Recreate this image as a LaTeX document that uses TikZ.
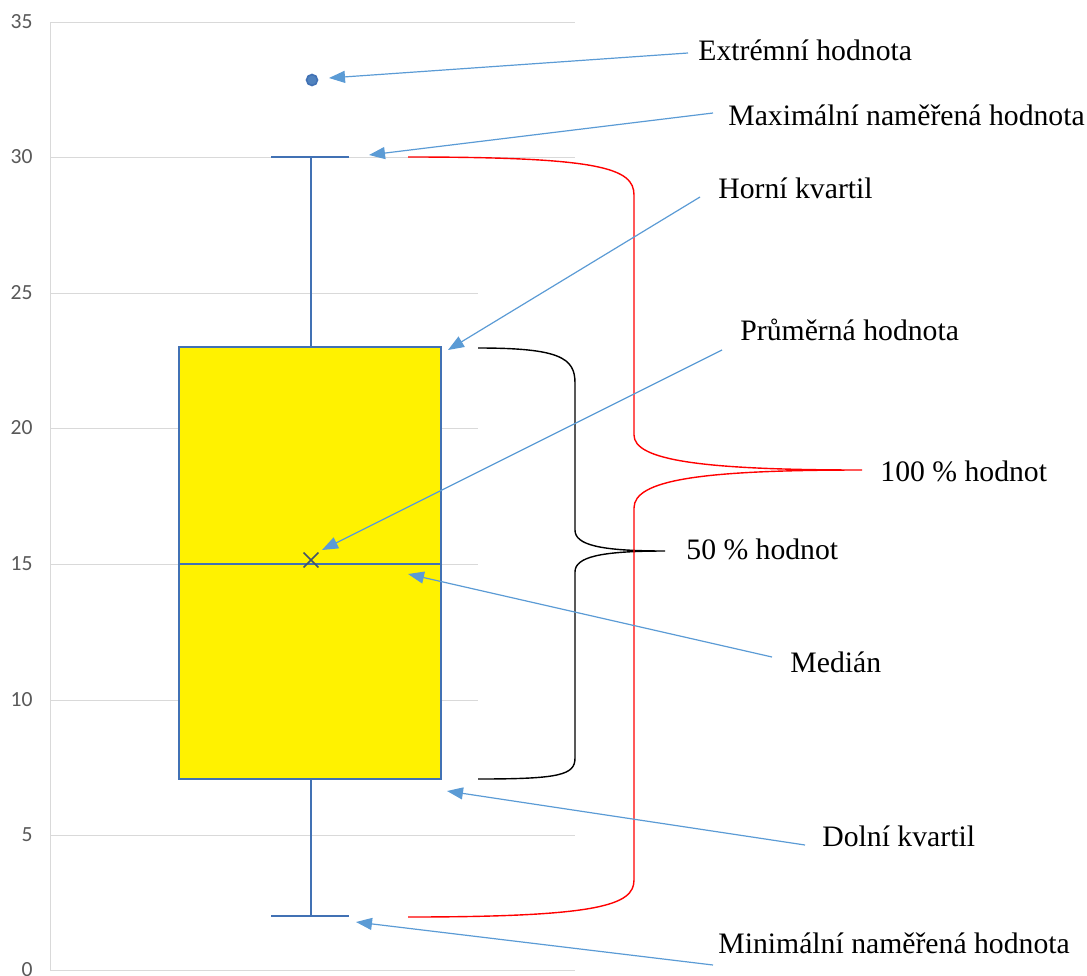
\documentclass[tikz,border=0pt]{standalone}
\usepackage{fontspec}
\setmainfont{Liberation Serif}
\newfontfamily\axisfont{Carlito}
\usetikzlibrary{arrows.meta}
\definecolor{gridgray}{RGB}{217,217,217}
\definecolor{axgray}{RGB}{89,89,89}
\definecolor{boxblue}{RGB}{65,113,180}
\definecolor{arrblue}{RGB}{91,155,213}
\definecolor{dotblue}{RGB}{80,130,190}
\definecolor{meangray}{RGB}{68,84,106}
\definecolor{bred}{RGB}{255,0,0}
\tikzset{
  grid line/.style={draw=gridgray,line width=0.5pt},
  ticklab/.style={font=\axisfont\fontsize{10.8}{12}\selectfont,text=axgray,anchor=east,inner sep=0pt},
  plotline/.style={draw=boxblue,line width=0.75pt},
  callout/.style={draw=arrblue,line width=0.6pt,-{Triangle[length=8pt,width=6pt]}},
  lab/.style={font=\fontsize{14.85}{17}\selectfont,anchor=base west,inner sep=0pt},
  bracebk/.style={draw=black,line width=0.7pt},
  bracerd/.style={draw=bred,line width=0.7pt}
}
\begin{document}
\begin{tikzpicture}[x=0.5pt,y=-0.5pt]
\useasboundingbox (0,0) rectangle (1087,975);
% grid
\draw[grid line] (50,22) -- (50,970);
\foreach \yy in {22,157,835,970} \draw[grid line] (50,\yy) -- (575,\yy);
\foreach \yy in {293,428,564,700} \draw[grid line] (50,\yy) -- (478,\yy);
% tick labels
\node[ticklab] (t35) at (33,22) {35};
\node[ticklab] (t30) at (33,157) {30};
\node[ticklab] (t25) at (33,293) {25};
\node[ticklab] (t20) at (33,428) {20};
\node[ticklab] (t15) at (33,564) {15};
\node[ticklab] (t10) at (33,700) {10};
\node[ticklab] (t5) at (33,835) {5};
\node[ticklab] (t0) at (33,970) {0};
% box plot
\node[plotline,fill=yellow,minimum width=131pt,minimum height=216pt,inner sep=0pt] (box) at (310,563) {};
\draw[plotline] (box.west |- 0,564) -- (box.east |- 0,564);
\draw[plotline] (311,347) -- (311,157);
\draw[plotline] (271,157) -- (349,157);
\draw[plotline] (311,779) -- (311,916);
\draw[plotline] (271,916) -- (349,916);
\node[circle,draw=boxblue,fill=dotblue,line width=0.8pt,minimum size=5.5pt,inner sep=0pt] (out) at (312,80) {};
\node[draw=none,inner sep=0pt,minimum size=7pt] (mean) at (311,560) {};
\draw[meangray,line width=0.75pt] (mean.north west) -- (mean.south east) (mean.north east) -- (mean.south west);
% braces
\draw[bracebk] (478,348) .. controls (560,348) and (575,358) .. (575,383) -- (575,530)
  .. controls (575,545) and (600,551) .. (665,551)
  .. controls (600,551) and (575,557) .. (575,572) -- (575,758)
  .. controls (575,775) and (560,779) .. (478,779);
\draw[bracerd] (408,157) .. controls (600,157) and (634,168) .. (634,195) -- (634,435)
  .. controls (634,460) and (700,470) .. (862,470)
  .. controls (700,470) and (634,480) .. (634,508) -- (634,880)
  .. controls (634,905) and (600,917) .. (408,917);
% labels
\node[lab] (lext) at (698,60) {Extrémní hodnota};
\node[lab] (lmax) at (728,125) {Maximální naměřená hodnota};
\node[lab] (lhor) at (718,198) {Horní kvartil};
\node[lab] (lprum) at (740,340) {Průměrná hodnota};
\node[lab] (l100) at (880,481) {100 \% hodnot};
\node[lab] (l50) at (686,559) {50 \% hodnot};
\node[lab] (lmed) at (790,672) {Medián};
\node[lab] (ldol) at (822,846) {Dolní kvartil};
\node[lab] (lmin) at (718,953) {Minimální naměřená hodnota};
% callout start points
\coordinate (sext) at (688,53);
\coordinate (smax) at (713,113);
\coordinate (shor) at (700,197);
\coordinate (sprum) at (722,350);
\coordinate (smed) at (772,657);
\coordinate (sdol) at (805,845);
\coordinate (smin) at (713,965);
% callout targets
\coordinate (text) at (329,78);
\coordinate (tmax) at (369,155);
\coordinate (thor) at (448,350);
\coordinate (tprum) at (322,550);
\coordinate (tmed) at (408,574);
\coordinate (tdol) at (447,791);
\coordinate (tmin) at (356,922);
\draw[callout] (sext) -- (text);
\draw[callout] (smax) -- (tmax);
\draw[callout] (shor) -- (thor);
\draw[callout] (sprum) -- (tprum);
\draw[callout] (smed) -- (tmed);
\draw[callout] (sdol) -- (tdol);
\draw[callout] (smin) -- (tmin);
\end{tikzpicture}
\end{document}
